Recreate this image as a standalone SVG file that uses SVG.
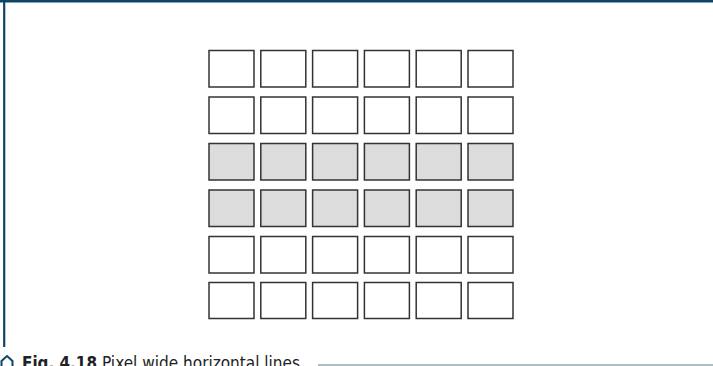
<svg xmlns="http://www.w3.org/2000/svg" width="713" height="366" viewBox="0 0 713 366">
<style>
.c{fill:#ffffff;stroke:#333333;stroke-width:1.5}
.g{fill:#dcdcdd;stroke:#333333;stroke-width:1.5}
.cap{font-family:"DejaVu Sans Condensed","DejaVu Sans",sans-serif;font-stretch:condensed;font-size:17px;fill:#222}
</style>
<rect width="713" height="366" fill="#ffffff"/>
<g id="frame">
<line x1="0" y1="1.2" x2="713" y2="1.2" stroke="#0f4566" stroke-width="2.6"/>
<line x1="4.2" y1="0" x2="4.2" y2="347" stroke="#0f4566" stroke-width="2.2"/>
<line x1="318" y1="365" x2="713" y2="365" stroke="#5d7c8a" stroke-width="1.2"/>
</g>
<g id="connectors"></g>
<g id="grid">
<g id="row1">
<rect class="c" x="209" y="50.5" width="45" height="36.5"/>
<rect class="c" x="260.8" y="50.5" width="45" height="36.5"/>
<rect class="c" x="312.6" y="50.5" width="45" height="36.5"/>
<rect class="c" x="364.4" y="50.5" width="45" height="36.5"/>
<rect class="c" x="416.2" y="50.5" width="45" height="36.5"/>
<rect class="c" x="468" y="50.5" width="45" height="36.5"/>
</g>
<g id="row2">
<rect class="c" x="209" y="97" width="45" height="36.5"/>
<rect class="c" x="260.8" y="97" width="45" height="36.5"/>
<rect class="c" x="312.6" y="97" width="45" height="36.5"/>
<rect class="c" x="364.4" y="97" width="45" height="36.5"/>
<rect class="c" x="416.2" y="97" width="45" height="36.5"/>
<rect class="c" x="468" y="97" width="45" height="36.5"/>
</g>
<g id="row3">
<rect class="g" x="209" y="143.5" width="45" height="36.5"/>
<rect class="g" x="260.8" y="143.5" width="45" height="36.5"/>
<rect class="g" x="312.6" y="143.5" width="45" height="36.5"/>
<rect class="g" x="364.4" y="143.5" width="45" height="36.5"/>
<rect class="g" x="416.2" y="143.5" width="45" height="36.5"/>
<rect class="g" x="468" y="143.5" width="45" height="36.5"/>
</g>
<g id="row4">
<rect class="g" x="209" y="190" width="45" height="36.5"/>
<rect class="g" x="260.8" y="190" width="45" height="36.5"/>
<rect class="g" x="312.6" y="190" width="45" height="36.5"/>
<rect class="g" x="364.4" y="190" width="45" height="36.5"/>
<rect class="g" x="416.2" y="190" width="45" height="36.5"/>
<rect class="g" x="468" y="190" width="45" height="36.5"/>
</g>
<g id="row5">
<rect class="c" x="209" y="236.5" width="45" height="36.5"/>
<rect class="c" x="260.8" y="236.5" width="45" height="36.5"/>
<rect class="c" x="312.6" y="236.5" width="45" height="36.5"/>
<rect class="c" x="364.4" y="236.5" width="45" height="36.5"/>
<rect class="c" x="416.2" y="236.5" width="45" height="36.5"/>
<rect class="c" x="468" y="236.5" width="45" height="36.5"/>
</g>
<g id="row6">
<rect class="c" x="209" y="282.5" width="45" height="36"/>
<rect class="c" x="260.8" y="282.5" width="45" height="36"/>
<rect class="c" x="312.6" y="282.5" width="45" height="36"/>
<rect class="c" x="364.4" y="282.5" width="45" height="36"/>
<rect class="c" x="416.2" y="282.5" width="45" height="36"/>
<rect class="c" x="468" y="282.5" width="45" height="36"/>
</g>
</g>
<g id="caption">
<path d="M1.5 368 V361 L7 356 L12.5 361 V368" fill="none" stroke="#0f4566" stroke-width="2"/>
<text class="cap" x="22" y="368.5"><tspan font-weight="bold" textLength="75" lengthAdjust="spacingAndGlyphs">Fig. 4.18</tspan></text>
<text class="cap" x="102" y="368.5" textLength="198" lengthAdjust="spacingAndGlyphs">Pixel wide horizontal lines</text>
</g>
</svg>
